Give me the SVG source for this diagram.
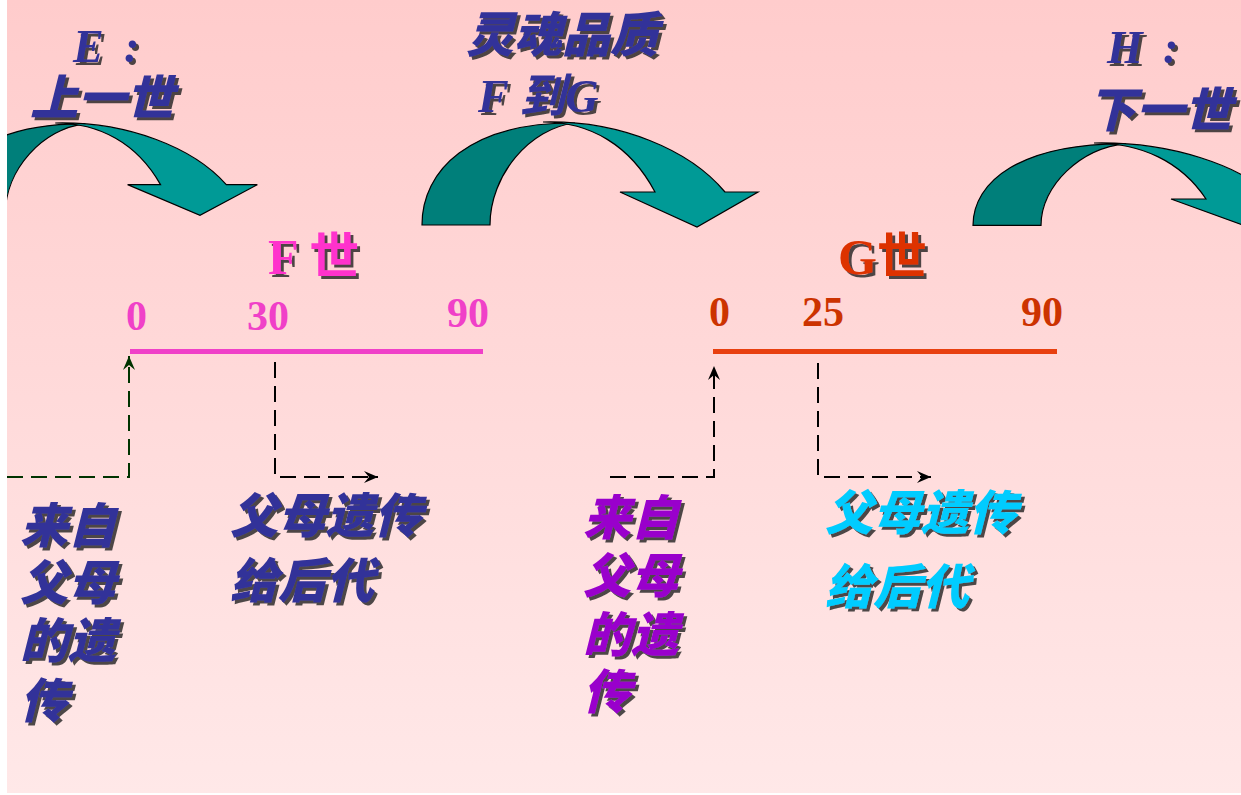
<svg xmlns="http://www.w3.org/2000/svg" xmlns:xlink="http://www.w3.org/1999/xlink" width="1241" height="795" viewBox="0 0 1241 795">
<style>
.cjk{font-family:"Liberation Sans","Noto Sans CJK SC",sans-serif;font-weight:900;font-style:italic;font-size:48px}
.lat{font-family:"Liberation Serif","Noto Sans CJK SC",serif;font-weight:bold;font-style:italic;font-size:46px}
.num{font-family:"Liberation Serif",serif;font-weight:bold;font-size:42px}
.ttl{font-family:"Liberation Serif","Noto Sans CJK SC",serif;font-weight:bold;font-size:50px}
.blue{fill:#333399}
.sh{filter:url(#shadow)}
.back{fill:#007F7A;stroke:#000;stroke-width:1.2;vector-effect:non-scaling-stroke}
.front{fill:#009A96;stroke:#000;stroke-width:1.2;vector-effect:non-scaling-stroke}
.dash{fill:none;stroke:#000;stroke-width:2;stroke-dasharray:16 8}
.tl{stroke-width:5;fill:none}
</style>
<defs>
<linearGradient id="bg" x1="0" y1="0" x2="0" y2="1">
<stop offset="0" stop-color="#FFCCCC"/>
<stop offset="1" stop-color="#FFE8E8"/>
</linearGradient>
<filter id="shadow" x="-10%" y="-10%" width="130%" height="140%">
<feGaussianBlur in="SourceAlpha" stdDeviation="0.7" result="b"/>
<feOffset in="b" dx="2.5" dy="2.5" result="o"/>
<feFlood flood-color="#222222" flood-opacity="0.8"/>
<feComposite in2="o" operator="in" result="s"/>
<feMerge><feMergeNode in="s"/><feMergeNode in="SourceGraphic"/></feMerge>
</filter>
<g id="carrow">
<path class="back" d="M422,225 C422,170 470,122 575,123 C530,128 490,175 490,225 Z"/>
<path class="front" d="M543,122 C620,120 690,150 725,192 L758,192 L697,227 L620,192 L655,192 C630,145 590,122 543,122 Z"/>
</g>
<marker id="ah" markerUnits="userSpaceOnUse" markerWidth="15" markerHeight="12" refX="14" refY="6" orient="auto" viewBox="0 0 15 12">
<path d="M0,0 L14,6 L0,12 L5,6 Z" fill="#000"/>
</marker>
<marker id="ahg" markerUnits="userSpaceOnUse" markerWidth="15" markerHeight="12" refX="14" refY="6" orient="auto" viewBox="0 0 15 12">
<path d="M0,0 L14,6 L0,12 L5,6 Z" fill="#003300"/>
</marker>
</defs>
<rect x="0" y="0" width="1241" height="795" fill="url(#bg)"/>

<g id="arrow-E"><use xlink:href="#carrow" transform="matrix(0.94,0,0,0.88,-455.2,15.64)"/></g>
<g id="arrow-FG"><use xlink:href="#carrow"/></g>
<g id="arrow-H"><use xlink:href="#carrow" transform="matrix(1,0,0,0.8,551,45.4)"/></g>

<g id="label-E" class="sh">
<text class="lat blue" x="73" y="62">E<tspan x="124">:</tspan></text>
<text class="cjk blue" x="30" y="115">上一世</text>
</g>
<g id="label-FG" class="sh">
<text class="cjk blue" x="466" y="52">灵魂品质</text>
<text class="lat blue" x="478" y="112">F 到G</text>
</g>
<g id="label-H" class="sh">
<text class="lat blue" x="1107" y="63">H<tspan x="1163">:</tspan></text>
<text class="cjk blue" x="1088" y="127">下一世</text>
</g>

<g id="timeline-F">
<text class="ttl sh" x="268" y="274" fill="#FF33CC">F 世</text>
<line class="tl" x1="130" y1="351.5" x2="483" y2="351.5" stroke="#F040C8"/>
<text class="num" x="126" y="330" fill="#F040C8">0</text>
<text class="num" x="247" y="330" fill="#F040C8">30</text>
<text class="num" x="447" y="327" fill="#F040C8">90</text>
</g>
<g id="timeline-G">
<text class="ttl sh" x="838" y="274" fill="#DD3300">G世</text>
<line class="tl" x1="713" y1="351.5" x2="1057" y2="351.5" stroke="#E84010"/>
<text class="num" x="709" y="326" fill="#CC3300">0</text>
<text class="num" x="802" y="326" fill="#CC3300">25</text>
<text class="num" x="1021" y="326" fill="#CC3300">90</text>
</g>

<g id="connectors">
<path class="dash" d="M7,477 H129 V356" style="stroke:#003300" marker-end="url(#ahg)"/>
<path class="dash" d="M275,362 V477 H378" marker-end="url(#ah)"/>
<path class="dash" d="M610,477 H714 V366" marker-end="url(#ah)"/>
<path class="dash" d="M818,363 V477 H931" marker-end="url(#ah)"/>
</g>

<g id="label-F-in" class="sh">
<text class="cjk blue" x="20" y="543">来自</text>
<text class="cjk blue" x="20" y="600">父母</text>
<text class="cjk blue" x="20" y="658">的遗</text>
<text class="cjk blue" x="20" y="718">传</text>
</g>
<g id="label-F-out" class="sh">
<text class="cjk blue" x="230" y="533">父母遗传</text>
<text class="cjk blue" x="230" y="598">给后代</text>
</g>
<g id="label-G-in" class="sh" fill="#9900CC">
<text class="cjk" x="583" y="535">来自</text>
<text class="cjk" x="583" y="593">父母</text>
<text class="cjk" x="583" y="652">的遗</text>
<text class="cjk" x="583" y="709">传</text>
</g>
<g id="label-G-out" class="sh" fill="#00CCFF">
<text class="cjk" x="825" y="530">父母遗传</text>
<text class="cjk" x="825" y="604">给后代</text>
</g>

<rect x="0" y="0" width="7" height="795" fill="#FFFFFF"/>
<rect x="0" y="793" width="1241" height="2" fill="#FFFFFF"/>
</svg>
